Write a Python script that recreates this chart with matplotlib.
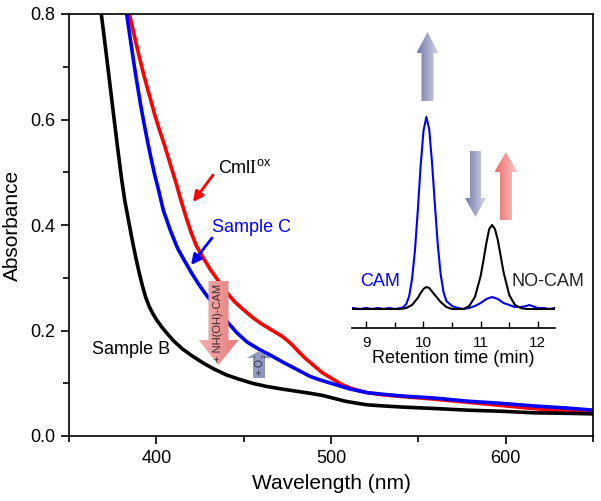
import numpy as np
import matplotlib.pyplot as plt
from matplotlib.patches import Polygon
from matplotlib.colors import LinearSegmentedColormap

plt.rcParams['font.family'] = ['Liberation Sans', 'DejaVu Sans']
plt.rcParams['mathtext.fontset'] = 'custom'
plt.rcParams['mathtext.rm'] = 'Liberation Serif'
plt.rcParams['mathtext.sf'] = 'Liberation Sans'
plt.rcParams['mathtext.it'] = 'Liberation Sans:italic'
plt.rcParams['mathtext.bf'] = 'Liberation Sans:bold'

# UV-vis spectra (wavelength nm, absorbance)
black_wl = [368.5, 370, 372, 374, 376, 378, 380, 382, 384, 386, 388, 390, 392, 394, 396,
            398, 400, 403, 406, 410, 415, 420, 427, 433, 440, 447, 455, 463, 472, 480,
            488, 495, 501, 508, 515, 521, 530, 540, 560, 578, 597, 616, 635, 650]
black_abs = [0.80, 0.76, 0.706, 0.651, 0.596, 0.542, 0.49, 0.445, 0.41, 0.375, 0.342, 0.312,
             0.285, 0.262, 0.245, 0.232, 0.221, 0.207, 0.195, 0.180, 0.165, 0.153, 0.138,
             0.127, 0.116, 0.108, 0.100, 0.094, 0.089, 0.085, 0.081, 0.077, 0.072, 0.066,
             0.062, 0.059, 0.057, 0.055, 0.052, 0.049, 0.047, 0.044, 0.043, 0.042]

blue_wl = [383, 385, 387, 389, 391, 393, 395, 397, 399, 401, 404, 408, 412, 416, 420, 424,
           428, 432, 436, 441, 446, 452, 459, 466, 473, 480, 488, 494, 501, 511, 521, 530,
           540, 559, 578, 597, 616, 635, 650]
blue_abs = [0.80, 0.755, 0.71, 0.668, 0.628, 0.592, 0.558, 0.526, 0.496, 0.47, 0.428, 0.39,
            0.357, 0.333, 0.31, 0.289, 0.27, 0.253, 0.236, 0.215, 0.196, 0.178, 0.164,
            0.152, 0.139, 0.127, 0.113, 0.106, 0.099, 0.089, 0.082, 0.079, 0.076, 0.072,
            0.066, 0.062, 0.057, 0.053, 0.049]

red_wl = [384.6, 387, 390, 393, 396, 399, 402, 405, 408, 411, 414, 417, 420, 423, 427, 431,
          436, 440, 445, 450, 455, 460, 465, 469, 472, 475, 478, 482, 486, 490, 495, 501,
          506, 511, 516, 521, 530, 540, 559, 578, 597, 616, 635, 650]
red_abs = [0.80, 0.765, 0.722, 0.682, 0.646, 0.61, 0.578, 0.548, 0.515, 0.483, 0.448, 0.415,
           0.385, 0.36, 0.337, 0.315, 0.292, 0.273, 0.254, 0.239, 0.225, 0.213, 0.203,
           0.195, 0.189, 0.181, 0.172, 0.158, 0.145, 0.134, 0.12, 0.108, 0.098, 0.091,
           0.086, 0.082, 0.078, 0.075, 0.070, 0.064, 0.058, 0.052, 0.047, 0.044]

# HPLC traces for the inset (retention time min, signal a.u.)
cam_t = [8.75, 8.9, 9.0, 9.1, 9.2, 9.3, 9.4, 9.5, 9.6, 9.65, 9.7, 9.75, 9.8, 9.85, 9.9,
         9.95, 10.0, 10.05, 10.1, 10.15, 10.2, 10.25, 10.3, 10.35, 10.4, 10.5, 10.6, 10.7,
         10.8, 10.9, 11.0, 11.1, 11.2, 11.3, 11.4, 11.5, 11.6, 11.7, 11.8, 11.85, 11.9,
         12.0, 12.1, 12.2, 12.3]
cam_sig = [1, 0, 1, 0, 1, 0, 1, 0, 1, 2, 5, 13, 30, 58, 98, 143, 178, 192, 180, 146, 104,
           64, 35, 17, 8, 3, 1, 0, 1, 3, 6, 10, 12, 10, 6, 4, 2, 2, 3, 4, 3, 1, 1, 0, 1]

nocam_t = [8.75, 9.6, 9.7, 9.8, 9.9, 9.95, 10.0, 10.05, 10.1, 10.2, 10.3, 10.4, 10.5, 10.7,
           10.8, 10.9, 11.0, 11.05, 11.1, 11.15, 11.2, 11.25, 11.3, 11.35, 11.4, 11.5, 11.6,
           11.7, 11.8, 12.3]
nocam_sig = [0, 0, 1, 4, 11, 16, 20, 22, 21, 14, 7, 2, 0, 0, 3, 12, 33, 49, 66, 80, 84, 80,
             69, 53, 37, 14, 4, 1, 0, 0]

fig = plt.figure(figsize=(6.01, 5.01), dpi=100)

# main spectra
ax = fig.add_axes([69/601, 65/501, 524/601, 422/501])
ax.plot(red_wl, red_abs, color='#ff0000', lw=2.6)
ax.plot(blue_wl, blue_abs, color='#0000ff', lw=2.6)
ax.plot(black_wl, black_abs, color='black', lw=2.6)
ax.set_xlim(350, 650)
ax.set_ylim(0, 0.8)
ax.set_xticks([400, 500, 600])
ax.set_xticks([350, 450, 550, 650], minor=True)
ax.set_yticks([0.0, 0.2, 0.4, 0.6, 0.8])
ax.set_yticks([0.1, 0.3, 0.5, 0.7], minor=True)
ax.set_yticklabels(['0.0', '0.2', '0.4', '0.6', '0.8'])
ax.tick_params(direction='out', length=6, width=1.2, labelsize=13, pad=4)
ax.tick_params(which='minor', direction='out', length=4, width=1.2)
for s in ax.spines.values():
    s.set_linewidth(1.2)
ax.set_xlabel('Wavelength (nm)', fontsize=15, labelpad=5)
ax.set_ylabel('Absorbance', fontsize=15, labelpad=6)

# inset chromatogram
axi = fig.add_axes([352/601, 173/501, 203/601, 308/501])
axi.set_facecolor('none')
axi.plot(cam_t, cam_sig, color='#0000ff', lw=1.5)
axi.plot(nocam_t, nocam_sig, color='black', lw=1.5)
axi.set_xlim(8.75, 12.3)
axi.set_ylim(-19, 289)
for side in ['top', 'left', 'right']:
    axi.spines[side].set_visible(False)
axi.spines['bottom'].set_linewidth(1.2)
axi.set_yticks([])
axi.set_xticks([9, 10, 11, 12])
axi.set_xticks([9.5, 10.5, 11.5], minor=True)
axi.tick_params(direction='in', length=5, width=1.0, labelsize=11, pad=6)
axi.tick_params(which='minor', direction='in', length=4, width=1.0)
axi.set_xlabel('Retention time (min)', fontsize=13, labelpad=0)

# overlay in pixel coords for annotations
ov = fig.add_axes([0, 0, 1, 1], zorder=5)
ov.set_xlim(0, 601)
ov.set_ylim(501, 0)
ov.set_autoscale_on(False)
ov.axis('off')


def grad_arrow(xc, y_tail, y_tip, shaft_w, head_w, head_len, c_left, c_right):
    d = 1 if y_tip > y_tail else -1
    y_hb = y_tip - d * head_len
    pts = [(xc - shaft_w/2, y_tail), (xc + shaft_w/2, y_tail), (xc + shaft_w/2, y_hb),
           (xc + head_w/2, y_hb), (xc, y_tip), (xc - head_w/2, y_hb), (xc - shaft_w/2, y_hb)]
    poly = Polygon(pts, closed=True, facecolor='none', edgecolor='none')
    ov.add_patch(poly)
    cmap = LinearSegmentedColormap.from_list('g', [c_left, c_right])
    grad = np.linspace(0, 1, 64).reshape(1, -1)
    im = ov.imshow(grad, cmap=cmap, aspect='auto', interpolation='bilinear',
                   extent=[xc - head_w/2, xc + head_w/2, max(y_tail, y_tip), min(y_tail, y_tip)])
    im.set_clip_path(poly)


# inset arrows
grad_arrow(427.5, 101, 32, 12, 22, 21, '#737aa6', '#d6d9e8')
grad_arrow(475.5, 151, 217, 11, 21, 19, '#737aa6', '#d6d9e8')
grad_arrow(506, 220, 152, 12, 23, 20, '#ef6a6a', '#f9cccc')
# main arrows
grad_arrow(218.5, 281, 365, 20, 40, 25, '#f3b0b0', '#e67c7c')
grad_arrow(259, 378, 351, 12, 25, 7, '#9da2c8', '#8990bb')

ov.text(218, 323, '+ NH(OH)-CAM', rotation=90, ha='center', va='center',
        fontsize=8, color='#3a2a2a')
ov.text(260, 365, '+ O$_2^{-}$', rotation=90, ha='center', va='center',
        fontsize=7.5, color='#2a2a3a')

# labels
ov.text(218, 173, r'Cml$\mathrm{I}^{\mathsf{ox}}$', fontsize=13, ha='left', va='baseline')
ov.annotate('', xy=(193, 202), xytext=(213, 175),
            arrowprops=dict(arrowstyle='-|>', color='#ff0000', lw=2, mutation_scale=15,
                            shrinkA=0, shrinkB=0))
ov.text(212, 228, 'Sample C', fontsize=13, color='#0000ff', ha='left', va='center')
ov.annotate('', xy=(191, 265), xytext=(212, 238),
            arrowprops=dict(arrowstyle='-|>', color='#0000ff', lw=2, mutation_scale=15,
                            shrinkA=0, shrinkB=0))
ov.text(92, 350, 'Sample B', fontsize=13, color='black', ha='left', va='center')
ov.text(380, 282, 'CAM', fontsize=13, color='#0000ff', ha='center', va='center')
ov.text(548, 282, 'NO-CAM', fontsize=13, color='#222222', ha='center', va='center')

fig.savefig('out.png', dpi=100)
